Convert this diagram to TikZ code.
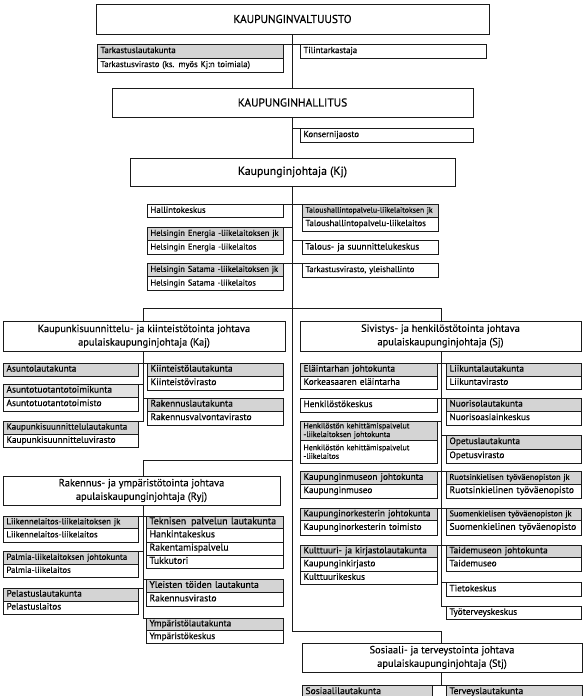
\documentclass[tikz,border=0pt]{standalone}
\usepackage{fontspec}
\setmainfont{PT Sans}[FakeBold=0.35]
\definecolor{lc}{HTML}{1A1A1A}
\definecolor{gf}{HTML}{D4D4D4}
\definecolor{gl}{HTML}{E2E2E2}
\newcommand\fz[1]{\fontsize{#1}{#1}\selectfont}
\newcommand\myfc{\fontsize{7.9}{8.6}\selectfont}
\newcommand\myft{\fontsize{10.4}{13.5}\selectfont}
\newcommand\myfT{\fontsize{11.4}{13}\selectfont}
\tikzset{
  base/.style={draw=lc, line width=0.8pt, anchor=north west, inner ysep=0pt, inner xsep=3.5pt, outer sep=0pt, fill=white, align=left},
  cell/.style={base, text width=#1-7pt, text height=6.2pt, text depth=2pt},
  hcell/.style={cell=#1, fill=gf},
  mcell/.style={base, text width=#1-7pt},
  ttl/.style={base, align=center, inner xsep=0pt, minimum width=#1},
  conn/.style={draw=lc, line width=0.8pt},
  hh/.style={minimum height=#1},
  fs/.style={font=\fz{#1}}
}
\begin{document}
\begin{tikzpicture}[x=1pt,y=-1pt]
\useasboundingbox[fill=white] (0,0) rectangle (584,696);

% top level
\node[ttl=393, hh=30, font=\myfT] (v) at (96,4) {KAUPUNGINVALTUUSTO};
\node[hcell=186, hh=14, fs=8.8] (tl) at (97,44) {Tarkastuslautakunta};
\node[cell=186, hh=14, fs=8.6] (tv) at (97,58) {Tarkastusvirasto (ks. myös Kj:n toimiala)};
\node[cell=186, hh=14, fs=8.8] (tt) at (300,44) {Tilintarkastaja};
\node[ttl=361, hh=29, font=\myfT] (kh) at (112,88) {KAUPUNGINHALLITUS};
\node[cell=173, hh=14, fs=8.8] (ko) at (300,128) {Konsernijaosto};
\node[ttl=325, hh=28, font=\fontsize{11.8}{13}\selectfont] (kj) at (130,158) {Kaupunginjohtaja (Kj)};

% Kj children
\node[cell=136, hh=13.5, fs=8.8] (hk) at (147,204) {Hallintokeskus};
\node[hcell=136, hh=13, fs=7.8] (tpj) at (302,204) {Taloushallintopalvelu-liikelaitoksen jk};
\node[cell=136, hh=14, fs=8.8] (tp) at (302,217) {Taloushallintopalvelu-liikelaitos};
\node[hcell=136, hh=13.5, fs=8.5] (hej) at (147,227) {Helsingin Energia -liikelaitoksen jk};
\node[cell=136, hh=14, fs=8.5] (he) at (147,240.5) {Helsingin Energia -liikelaitos};
\node[cell=136, hh=14, fs=9.3] (ts) at (302,240.5) {Talous- ja suunnittelukeskus};
\node[hcell=136, hh=13.5, fs=8.5] (hsj) at (147,263) {Helsingin Satama -liikelaitoksen jk};
\node[cell=136, hh=14, fs=8.5] (hs) at (147,276.5) {Helsingin Satama -liikelaitos};
\node[cell=136, hh=14, fs=8.6] (ty) at (302,263) {Tarkastusvirasto, yleishallinto};

% deputy mayors
\node[ttl=282, hh=29.5, font=\myft] (kaj) at (3,321.5) {Kaupunkisuunnittelu- ja kiinteistötointa johtava\\apulaiskaupunginjohtaja (Kaj)};
\node[ttl=281, hh=30, font=\myft] (sj) at (300,321) {Sivistys- ja henkilöstötointa johtava\\apulaiskaupunginjohtaja (Sj)};
\node[ttl=277, hh=29, font=\myft] (ryj) at (3,476) {Rakennus- ja ympäristötointa johtava\\apulaiskaupunginjohtaja (Ryj)};
\node[ttl=280, hh=29, font=\myft] (stj) at (302,643) {Sosiaali- ja terveystointa johtava\\apulaiskaupunginjohtaja (Stj)};

% Kaj children
\node[hcell=135, hh=13, fs=9.3] (asl) at (3,363) {Asuntolautakunta};
\node[hcell=135, hh=13, fs=9.4, fill=gl] (atk) at (3,384) {Asuntotuotantotoimikunta};
\node[cell=135, hh=14, fs=9.4] (att) at (3,397) {Asuntotuotantotoimisto};
\node[hcell=135, hh=13, fs=9] (ksl) at (3,421) {Kaupunkisuunnittelulautakunta};
\node[cell=135, hh=13.5, fs=9.3] (ksv) at (3,434) {Kaupunkisuunnitteluvirasto};
\node[hcell=136, hh=13, fs=9.5] (kil) at (147,363) {Kiinteistölautakunta};
\node[cell=136, hh=14, fs=9.5] (kiv) at (147,376) {Kiinteistövirasto};
\node[hcell=136, hh=13, fs=9.5] (ral) at (147,398) {Rakennuslautakunta};
\node[cell=136, hh=14, fs=9.5] (rav) at (147,411) {Rakennusvalvontavirasto};

% Sj children left
\node[hcell=137, hh=13, fs=9.3] (ela) at (300,363) {Eläintarhan johtokunta};
\node[cell=137, hh=13.5, fs=9.3] (kea) at (300,376) {Korkeasaaren eläintarha};
\node[cell=137, hh=14, fs=9.3] (hkk) at (300,398) {Henkilöstökeskus};
\node[mcell=137, hh=19.5, font=\myfc, fill=gf] (hkj) at (300,421) {Henkilöstön kehittämispalvelut\\-liikelaitoksen johtokunta};
\node[mcell=137, hh=22.5, font=\myfc] (hkl) at (300,440.5) {Henkilöstön kehittämispalvelut\\-liikelaitos\\[2pt]};
\node[hcell=137, hh=12.5, fs=9.3] (kmj) at (300,471.5) {Kaupunginmuseon johtokunta};
\node[cell=137, hh=14, fs=9.3] (km) at (300,484) {Kaupunginmuseo};
\node[hcell=137, hh=12.5, fs=9.2] (koj) at (300,508) {Kaupunginorkesterin johtokunta};
\node[cell=137, hh=14.5, fs=9.3] (kot) at (300,520.5) {Kaupunginorkesterin toimisto};
\node[hcell=137, hh=12.5, fs=9.3] (kkl) at (300,545) {Kulttuuri- ja kirjastolautakunta};
\node[cell=137, hh=13.5, fs=9.3] (kki) at (300,557.5) {Kaupunginkirjasto};
\node[cell=137, hh=13.5, fs=9.3] (kuk) at (300,571) {Kulttuurikeskus};

% Sj children right
\node[hcell=135, hh=13, fs=9.3] (lil) at (446,363) {Liikuntalautakunta};
\node[cell=135, hh=13.5, fs=9.3] (liv) at (446,376) {Liikuntavirasto};
\node[hcell=135, hh=13, fs=9.3] (nul) at (446,398) {Nuorisolautakunta};
\node[cell=135, hh=14, fs=9.3] (nuk) at (446,411) {Nuorisoasiainkeskus};
\node[hcell=135, hh=14, fs=9.3] (opl) at (446,435) {Opetuslautakunta};
\node[cell=135, hh=14, fs=9.3] (opv) at (446,449) {Opetusvirasto};
\node[hcell=135, hh=12.5, fs=8.3] (ruj) at (446,471.5) {Ruotsinkielisen työväenopiston jk};
\node[cell=135, hh=14, fs=9.6] (ruo) at (446,484) {Ruotsinkielinen työväenopisto};
\node[hcell=135, hh=12.5, fs=8.3] (suj) at (446,508) {Suomenkielisen työväenopiston jk};
\node[cell=135, hh=14.5, fs=9.6] (suo) at (446,520.5) {Suomenkielinen työväenopisto};
\node[hcell=135, hh=12.5, fs=9.3] (tmj) at (446,545) {Taidemuseon johtokunta};
\node[cell=135, hh=13.5, fs=9.3] (tm) at (446,557.5) {Taidemuseo};
\node[cell=135, hh=13.5, fs=9.3] (tie) at (446,582.5) {Tietokeskus};
\node[cell=135, hh=13.5, fs=9.3] (tyo) at (446,606) {Työterveyskeskus};

% Ryj children
\node[hcell=135, hh=12.5, fs=8.7] (lij) at (3,516) {Liikennelaitos-liikelaitoksen jk};
\node[cell=135, hh=13.5, fs=8.7] (lll) at (3,528.5) {Liikennelaitos-liikelaitos};
\node[hcell=135, hh=12.5, fs=8.7] (paj) at (3,551.5) {Palmia-liikelaitoksen johtokunta};
\node[cell=135, hh=13.5, fs=8.7] (pal) at (3,564) {Palmia-liikelaitos};
\node[hcell=135, hh=13, fs=9.3] (pej) at (3,588) {Pelastuslautakunta};
\node[cell=135, hh=13, fs=9.3] (pel) at (3,601) {Pelastuslaitos};
\node[hcell=137, hh=12.5, fs=9.9] (tek) at (146,516) {Teknisen\, palvelun lautakunta};
\node[cell=137, hh=13.5, fs=9.8] (han) at (146,528.5) {Hankintakeskus};
\node[cell=137, hh=13, fs=9.8] (rak) at (146,542) {Rakentamispalvelu};
\node[cell=137, hh=13.5, fs=9.8] (tuk) at (146,555) {Tukkutori};
\node[hcell=137, hh=12.5, fs=9.6] (ytl) at (146,579.5) {Yleisten töiden lautakunta};
\node[cell=137, hh=14.5, fs=9.6] (rkv) at (146,592) {Rakennusvirasto};
\node[hcell=137, hh=12.5, fs=9.3] (yml) at (146,618) {Ympäristölautakunta};
\node[cell=137, hh=13, fs=9.3] (ymk) at (146,630.5) {Ympäristökeskus};

% Stj children
\node[hcell=130, hh=14, fs=9.6] (sos) at (302,685) {Sosiaalilautakunta};
\node[hcell=136, hh=14, fs=9.6] (ter) at (446,685) {Terveyslautakunta};

% connector coordinates
\coordinate (kajx) at (143,308.3);
\coordinate (sjx) at (441,308.3);
\coordinate (ryjx) at (143,460.7);
\coordinate (stjx) at (441,631);

% spine
\draw[conn] (v.south) -- (kh.north);
\draw[conn] (kh.south) -- (kj.north);
\draw[conn] (kj.south) -- (stjx -| kj.south) -- (stjx) -- (stjx |- stj.north);
\draw[conn] (tl.north east) -- (tt.north west);
\draw[conn] (ko.north west) -- (ko.north west -| kh.south);
\draw[conn] (hk.north east) -- (tpj.north west);
\draw[conn] (hej.north east) -- (hej.north east -| kj.south);
\draw[conn] (ts.north west) -- (ts.north west -| kj.south);
\draw[conn] (hsj.north east) -- (ty.north west);
% bus to Kaj and Sj
\draw[conn] (kajx |- kaj.north) -- (kajx) -- (sjx) -- (sjx |- sj.north);
% Kaj
\draw[conn] (kajx |- kaj.south) |- (ksl.north east);
\draw[conn] (asl.north east) -- (kil.north west);
\draw[conn] (atk.north east) -- (atk.north east -| kajx);
\draw[conn] (ral.north west) -- (ral.north west -| kajx);
% Sj
\draw[conn] (sjx |- sj.south) |- (tyo.north west);
\draw[conn] (ela.north east) -- (lil.north west);
\draw[conn] (hkk.north east) -- (nul.north west);
\draw[conn] (hkj.north east) -- (hkj.north east -| sjx);
\draw[conn] (opl.north west) -- (opl.north west -| sjx);
\draw[conn] (kmj.north east) -- (ruj.north west);
\draw[conn] (koj.north east) -- (suj.north west);
\draw[conn] (kkl.north east) -- (tmj.north west);
\draw[conn] (tie.north west) -- (tie.north west -| sjx);
% Ryj
\draw[conn] (ryjx -| kj.south) -- (ryjx) -- (ryjx |- ryj.north);
\draw[conn] (ryjx |- ryj.south) |- (yml.north west);
\draw[conn] (lij.north east) -- (tek.north west);
\draw[conn] (paj.north east) -- (paj.north east -| ryjx);
\draw[conn] (pej.north east) -- (pej.north east -| ryjx);
\draw[conn] (ytl.north west) -- (ytl.north west -| ryjx);
% Stj
\draw[conn] (stjx |- stj.south) -- (stjx |- sos.north);
\draw[conn] (sos.north east) -- (ter.north west);
\end{tikzpicture}
\end{document}
